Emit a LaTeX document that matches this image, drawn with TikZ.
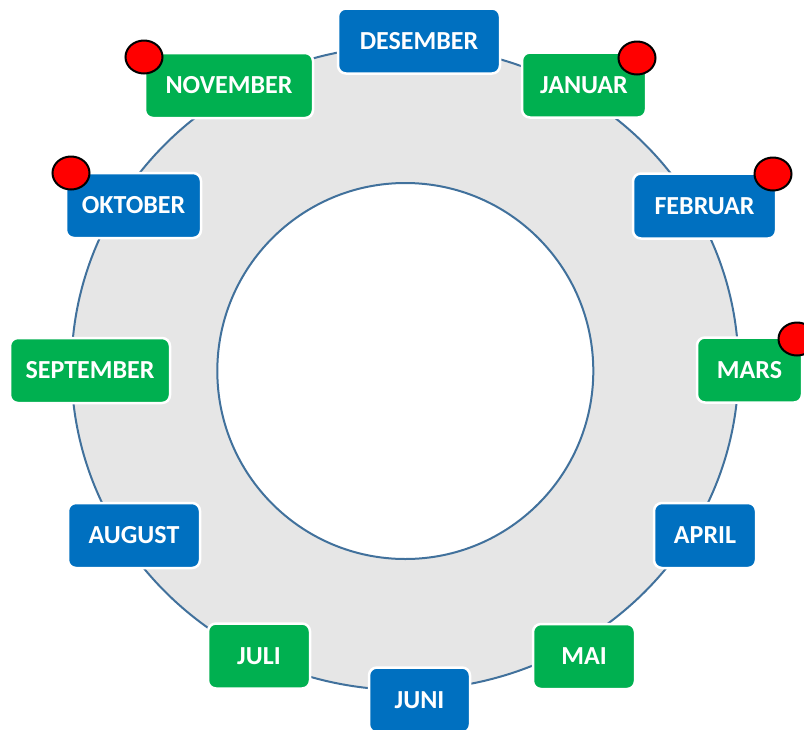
\documentclass[tikz,border=0pt]{standalone}
\usepackage{fontspec}
\setmainfont{Carlito}
\usetikzlibrary{shapes.geometric}
\definecolor{mblue}{HTML}{0070C0}
\definecolor{mgreen}{HTML}{00B050}
\definecolor{ringfill}{HTML}{E6E6E6}
\definecolor{ringline}{HTML}{41719C}
\definecolor{dotred}{HTML}{FF0000}
\tikzset{
  month/.style={rectangle, rounded corners=8pt, draw=white, line width=2.5pt,
    text=white, font=\fontsize{26}{30}\selectfont\bfseries,
    minimum height=65pt, inner sep=0pt, text height=16.5pt, text depth=0pt},
  bluebox/.style={month, fill=mblue},
  greenbox/.style={month, fill=mgreen},
  reddot/.style={ellipse, draw=black, fill=dotred, line width=2pt,
    minimum width=37pt, minimum height=33pt, inner sep=0pt},
  ringline/.style={draw=ringline, line width=2pt}
}
\begin{document}
\begin{tikzpicture}[x=1pt,y=-1pt]
\useasboundingbox (0,0) rectangle (804,729);
% ring
\draw[ringline, fill=ringfill] (405,368) ellipse [x radius=333.5, y radius=322];
\draw[ringline, fill=white] (405.3,371) circle [radius=188];
% months
\node[bluebox,  minimum width=162pt] (des) at (419,41)    {DESEMBER};
\node[greenbox, minimum width=124pt] (jan) at (584,85)    {JANUAR};
\node[bluebox,  minimum width=143pt] (feb) at (704.5,206) {FEBRUAR};
\node[greenbox, minimum width=105pt] (mar) at (749.5,370) {MARS};
\node[bluebox,  minimum width=102pt] (apr) at (705,535.5) {APRIL};
\node[greenbox, minimum width=102pt] (mai) at (584,656.5) {MAI};
\node[bluebox,  minimum width=101pt] (jun) at (419.5,700) {JUNI};
\node[greenbox, minimum width=102pt] (jul) at (259,656)   {JULI};
\node[bluebox,  minimum width=132pt] (aug) at (134,535.5) {AUGUST};
\node[greenbox, minimum width=160pt] (sep) at (90,370.5)  {SEPTEMBER};
\node[bluebox,  minimum width=135pt] (okt) at (133.5,205.5) {OKTOBER};
\node[greenbox, minimum width=168pt] (nov) at (229,85.5)  {NOVEMBER};
% red dots
\node[reddot] (dnov) at (144,57)  {};
\node[reddot] (djan) at (637,58)  {};
\node[reddot] (dokt) at (71,173)  {};
\node[reddot] (dfeb) at (773,174) {};
\node[reddot] (dmar) at (797,339) {};
\end{tikzpicture}
\end{document}
